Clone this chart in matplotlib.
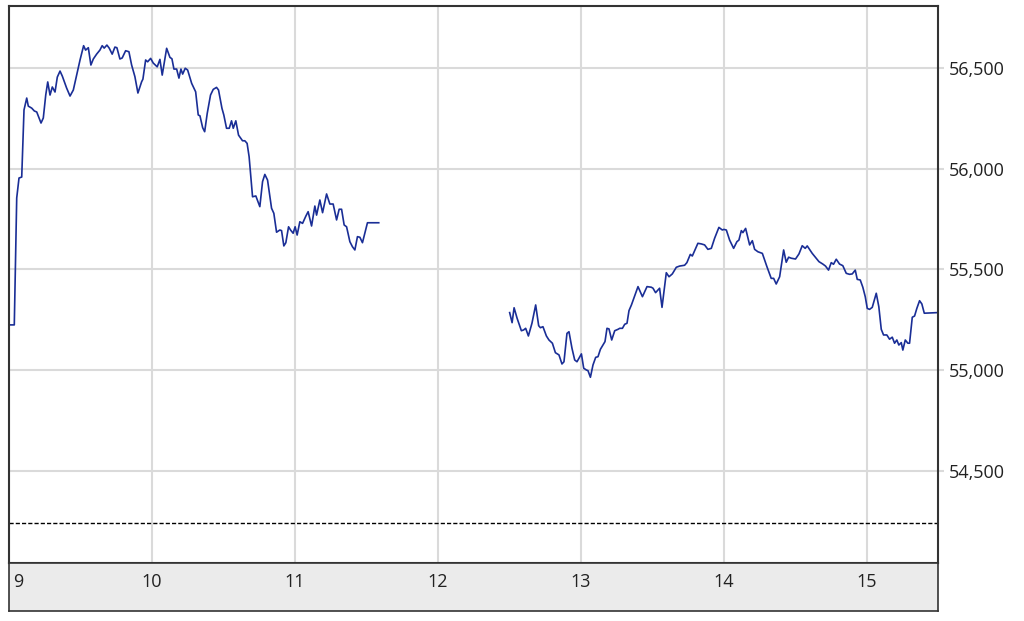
import matplotlib.pyplot as plt
from matplotlib.ticker import FuncFormatter

plt.rcParams['font.family'] = ['Open Sans', 'DejaVu Sans']

# morning session (hours, price)
am_x = [9.000, 9.037, 9.054, 9.070, 9.089, 9.105, 9.124, 9.135, 9.159, 9.177,
        9.194, 9.224, 9.240, 9.257, 9.271, 9.287, 9.303, 9.322, 9.338, 9.357,
        9.373, 9.403, 9.427, 9.450, 9.473, 9.497, 9.522, 9.536, 9.555, 9.573,
        9.590, 9.613, 9.636, 9.652, 9.666, 9.685, 9.701, 9.722, 9.741, 9.755,
        9.776, 9.792, 9.816, 9.839, 9.858, 9.881, 9.902, 9.928, 9.937, 9.956,
        9.970, 9.991, 10.009, 10.037, 10.056, 10.072, 10.103, 10.126, 10.140, 10.154,
        10.173, 10.189, 10.203, 10.215, 10.233, 10.250, 10.278, 10.306, 10.324, 10.336,
        10.355, 10.369, 10.387, 10.410, 10.429, 10.452, 10.466, 10.490, 10.503, 10.522,
        10.541, 10.557, 10.569, 10.587, 10.606, 10.634, 10.650, 10.666, 10.680, 10.704,
        10.727, 10.755, 10.774, 10.790, 10.809, 10.837, 10.853, 10.872, 10.895, 10.907,
        10.923, 10.937, 10.956, 10.970, 10.988, 11.002, 11.016, 11.035, 11.054, 11.077,
        11.093, 11.117, 11.140, 11.152, 11.175, 11.194, 11.222, 11.245, 11.268, 11.292,
        11.310, 11.327, 11.345, 11.362, 11.385, 11.403, 11.420, 11.438, 11.455, 11.473,
        11.508, 11.587]
am_y = [55225, 55225, 55855, 55954, 55959, 56292, 56351, 56311, 56301, 56287,
        56282, 56227, 56252, 56366, 56431, 56366, 56406, 56381, 56455, 56485,
        56460, 56401, 56361, 56391, 56465, 56540, 56611, 56589, 56601, 56515,
        56545, 56569, 56589, 56611, 56599, 56614, 56599, 56569, 56604, 56601,
        56545, 56550, 56586, 56581, 56515, 56457, 56376, 56432, 56445, 56540,
        56531, 56548, 56525, 56506, 56543, 56465, 56598, 56553, 56546, 56495,
        56495, 56450, 56495, 56470, 56499, 56490, 56424, 56382, 56267, 56263,
        56204, 56184, 56275, 56366, 56394, 56404, 56391, 56300, 56267, 56201,
        56201, 56238, 56201, 56238, 56167, 56139, 56139, 56126, 56060, 55861,
        55865, 55812, 55936, 55972, 55944, 55804, 55779, 55685, 55696, 55693,
        55617, 55633, 55712, 55696, 55680, 55712, 55671, 55737, 55729, 55765,
        55787, 55716, 55815, 55770, 55845, 55782, 55875, 55825, 55825, 55746,
        55799, 55799, 55721, 55712, 55638, 55613, 55597, 55663, 55660, 55633,
        55732, 55732]

# afternoon session
pm_x = [12.503, 12.520, 12.534, 12.555, 12.585, 12.601, 12.615, 12.634, 12.659, 12.685,
        12.706, 12.718, 12.736, 12.760, 12.778, 12.802, 12.823, 12.848, 12.869, 12.883,
        12.904, 12.918, 12.939, 12.958, 12.974, 13.005, 13.021, 13.040, 13.051, 13.068,
        13.086, 13.105, 13.121, 13.138, 13.156, 13.170, 13.184, 13.198, 13.217, 13.238,
        13.261, 13.273, 13.292, 13.308, 13.324, 13.338, 13.355, 13.378, 13.401, 13.432,
        13.464, 13.494, 13.506, 13.524, 13.552, 13.569, 13.599, 13.618, 13.641, 13.669,
        13.692, 13.727, 13.743, 13.767, 13.781, 13.820, 13.844, 13.867, 13.890, 13.914,
        13.937, 13.967, 13.991, 14.002, 14.019, 14.042, 14.070, 14.093, 14.107, 14.124,
        14.135, 14.154, 14.182, 14.201, 14.217, 14.240, 14.271, 14.303, 14.333, 14.350,
        14.368, 14.392, 14.420, 14.438, 14.455, 14.473, 14.503, 14.527, 14.550, 14.571,
        14.585, 14.620, 14.667, 14.694, 14.713, 14.734, 14.753, 14.769, 14.788, 14.811,
        14.834, 14.858, 14.881, 14.900, 14.921, 14.935, 14.956, 14.974, 14.991, 15.005,
        15.021, 15.040, 15.068, 15.086, 15.103, 15.119, 15.142, 15.161, 15.180, 15.196,
        15.212, 15.226, 15.243, 15.254, 15.271, 15.289, 15.301, 15.320, 15.336, 15.352,
        15.371, 15.387, 15.404, 15.497]
pm_y = [55286, 55236, 55310, 55258, 55196, 55200, 55208, 55170, 55233, 55324,
        55221, 55211, 55216, 55170, 55150, 55134, 55087, 55076, 55031, 55042,
        55183, 55191, 55109, 55051, 55042, 55081, 55010, 55001, 54998, 54965,
        55026, 55064, 55067, 55104, 55125, 55142, 55208, 55205, 55150, 55196,
        55203, 55208, 55208, 55228, 55233, 55296, 55324, 55370, 55415, 55365,
        55415, 55412, 55407, 55385, 55407, 55312, 55484, 55464, 55478, 55511,
        55517, 55521, 55534, 55575, 55567, 55630, 55627, 55622, 55600, 55605,
        55655, 55709, 55696, 55699, 55696, 55646, 55605, 55638, 55646, 55693,
        55683, 55704, 55622, 55643, 55600, 55588, 55580, 55514, 55456, 55456,
        55428, 55464, 55597, 55536, 55561, 55556, 55552, 55577, 55618, 55605,
        55617, 55580, 55539, 55527, 55517, 55497, 55534, 55526, 55551, 55527,
        55519, 55481, 55476, 55478, 55497, 55451, 55448, 55412, 55365, 55307,
        55302, 55312, 55382, 55315, 55203, 55175, 55175, 55154, 55164, 55134,
        55150, 55125, 55137, 55100, 55150, 55134, 55134, 55263, 55269, 55307,
        55345, 55329, 55283, 55286]

hours = [9, 10, 11, 12, 13, 14, 15]
y_ticks = [54500, 55000, 55500, 56000, 56500]
prev_close = 54242

line_color = '#1a2e96'
grid_color = '#dadada'
edge_color = '#333333'

fig = plt.figure(figsize=(10.24, 6.21), dpi=100)
ax = fig.add_axes([9 / 1024, 1 - 563 / 621, 929 / 1024, 557 / 621])

ax.plot(am_x, am_y, color=line_color, lw=1.2)
ax.plot(pm_x, pm_y, color=line_color, lw=1.2)
ax.axhline(prev_close, color='black', lw=1, ls=(0, (3, 1.5)))

ax.set_xlim(9, 15.5)
ax.set_ylim(54043, 56808)
ax.set_xticks(hours)
ax.set_yticks(y_ticks)
ax.grid(True, color=grid_color, lw=1.5)
ax.set_axisbelow(True)
ax.tick_params(axis='x', bottom=False, labelbottom=False)
ax.yaxis.tick_right()
ax.tick_params(axis='y', colors=grid_color, length=4, width=1.5, pad=4,
               labelcolor='#222222', labelsize=13)
ax.yaxis.set_major_formatter(FuncFormatter(lambda v, p: f'{int(v):,}'))
for s in ax.spines.values():
    s.set_color(edge_color)
    s.set_linewidth(1.5)

# gray time strip under the chart
strip = fig.add_axes([9 / 1024, 1 - 611 / 621, 929 / 1024, 48 / 621])
strip.set_facecolor('#ebebeb')
strip.set_xlim(9, 15.5)
strip.set_ylim(0, 1)
strip.set_xticks([])
strip.set_yticks([])
for s in strip.spines.values():
    s.set_color(edge_color)
    s.set_linewidth(1.2)
for h in hours:
    if h == 9:
        strip.text(h + 0.028, 0.6, str(h), ha='left', va='center', fontsize=13, color='#222222')
    else:
        strip.text(h, 0.6, str(h), ha='center', va='center', fontsize=13, color='#222222')

fig.savefig('out.png', dpi=100)
